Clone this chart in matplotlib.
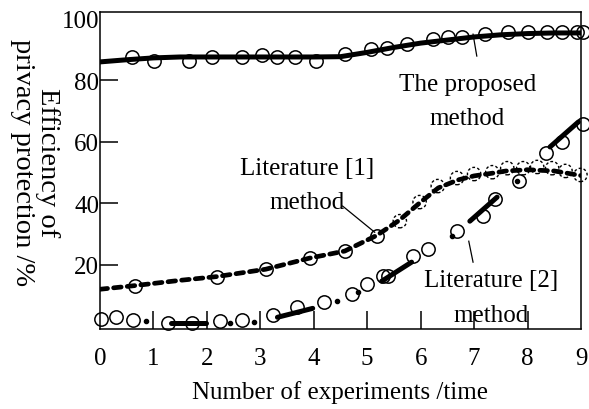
import matplotlib
matplotlib.use('Agg')
import matplotlib.pyplot as plt

plt.rcParams['font.family'] = ['Liberation Serif', 'DejaVu Serif']

# 본문 방법 (The proposed method)
prop_line_x = [0, 0.5, 1, 1.5, 2, 3, 4, 4.5, 5, 5.5, 6, 6.5, 7, 7.5, 8, 8.5, 9]
prop_line_y = [85.9, 86.6, 87.2, 87.5, 87.5, 87.5, 87.5, 87.6, 89.0, 90.6, 92.0, 93.0, 94.0, 94.7, 95.1, 95.3, 95.3]
prop_pts_x = [0.60, 1.01, 1.67, 2.10, 2.65, 3.04, 3.32, 3.64, 4.05, 4.58, 5.08, 5.37, 5.74,
              6.23, 6.51, 6.77, 7.20, 7.64, 8.01, 8.37, 8.65, 8.93, 9.04]
prop_pts_y = [87.5, 86.2, 86.2, 87.5, 87.5, 88.1, 87.5, 87.5, 86.2, 88.4, 90.1, 90.4, 91.7,
              93.3, 94.0, 94.0, 94.9, 95.6, 95.6, 95.6, 95.6, 95.6, 95.6]

# Literature [1]
lit1_line_x = [0, 0.66, 1.5, 2.18, 3.1, 3.92, 4.58, 5.18, 5.6, 6.0, 6.33, 6.7, 7.0, 7.35, 7.6, 8.0, 8.5, 9]
lit1_line_y = [12.1, 13.3, 15.0, 16.2, 18.6, 22.2, 24.5, 29.6, 34.5, 40.4, 45.0, 47.6, 48.9, 49.8, 50.5, 50.9, 50.5, 49.0]
lit1_pts_x = [0.66, 2.18, 3.10, 3.92, 4.58, 5.18]
lit1_pts_y = [13.1, 16.0, 18.6, 22.2, 24.5, 29.4]
lit1_dash_x = [5.61, 5.98, 6.32, 6.68, 7.00, 7.34, 7.62, 7.92, 8.18, 8.46, 8.71, 8.99]
lit1_dash_y = [34.2, 40.4, 45.6, 48.2, 49.5, 50.1, 51.4, 51.4, 51.8, 51.4, 50.5, 49.2]

# Literature [2]
lit2_pts_x = [0.02, 0.30, 0.62, 1.28, 1.73, 2.25, 2.66, 3.23, 3.68, 4.20, 4.71, 4.99, 5.29,
              5.38, 5.85, 6.13, 6.68, 7.17, 7.39, 7.84, 8.35, 8.65, 9.04]
lit2_pts_y = [2.4, 3.0, 2.1, 1.1, 1.1, 1.8, 2.1, 3.7, 6.3, 7.9, 10.5, 13.8, 16.4,
              16.4, 22.8, 25.1, 30.9, 35.8, 41.4, 47.2, 56.3, 59.9, 65.7]
lit2_dot_x = [0.86, 2.44, 2.89, 4.43, 4.82, 6.59, 7.80]
lit2_dot_y = [1.8, 1.1, 1.4, 8.3, 11.1, 29.3, 47.2]
lit2_seg_x = [[1.33, 1.99], [3.32, 3.98], [5.27, 5.83], [6.92, 7.43], [8.42, 8.95]]
lit2_seg_y = [[1.1, 1.1], [3.0, 5.9], [14.7, 20.9], [34.2, 42.0], [58.3, 66.4]]

xticks = [0, 1, 2, 3, 4, 5, 6, 7, 8, 9]
yticks = [20, 40, 60, 80, 100]

fig = plt.figure(figsize=(5.89, 4.10), dpi=100)
ax = fig.add_axes([100 / 589, 80 / 410, 481 / 589, 317 / 410])

ms = 9.6
circ = dict(marker='o', ms=ms, mfc='none', mec='k', mew=1.1, ls='none', clip_on=False, zorder=4)

# proposed
ax.plot(prop_line_x, prop_line_y, color='k', lw=3.6, solid_capstyle='round', zorder=3)
ax.plot(prop_pts_x, prop_pts_y, **circ)

# literature 1
ax.plot(lit1_line_x, lit1_line_y, color='k', lw=3.4, dashes=(1.6, 1.3),
        dash_capstyle='round', zorder=3)
ax.plot(lit1_pts_x, lit1_pts_y, **circ)
ax.scatter(lit1_dash_x, lit1_dash_y, s=ms ** 2, facecolors='none', edgecolors='k',
           linewidths=1.0, linestyles=(0, (2, 1.6)), clip_on=False, zorder=4)

# literature 2
for sx, sy in zip(lit2_seg_x, lit2_seg_y):
    ax.plot(sx, sy, color='k', lw=3.6, solid_capstyle='round', zorder=3)
ax.plot(lit2_pts_x, lit2_pts_y, **circ)
ax.plot(lit2_dot_x, lit2_dot_y, 'o', color='k', ms=3, ls='none', zorder=4)

# annotations
fs = 18
ax.text(6.87, 73.2, 'The proposed\nmethod', ha='center', va='center', fontsize=fs, linespacing=1.75)
ax.plot([6.98, 7.05], [94.9, 87.8], color='k', lw=0.9)
ax.text(3.87, 45.8, 'Literature [1]\nmethod', ha='center', va='center', fontsize=fs, linespacing=1.7)
ax.plot([4.54, 5.14], [39.1, 30.6], color='k', lw=0.9)
ax.text(7.32, 9.4, 'Literature [2]\nmethod', ha='center', va='center', fontsize=fs, linespacing=1.8)
ax.plot([6.90, 6.98], [27.7, 20.9], color='k', lw=0.9)

ax.set_xlim(0, 9)
ax.set_ylim(-0.8, 102.1)
ax.set_xticks(xticks)
ax.set_yticks(yticks)
ax.set_xticklabels([str(v) for v in xticks], fontsize=18)
ax.set_yticklabels([str(v) for v in yticks], fontsize=18)
ax.tick_params(axis='both', direction='in', length=13, width=1.1, color='k')
ax.tick_params(axis='x', pad=13)
ax.tick_params(axis='y', pad=0.5)
# no tick marks at the ends
for t in ax.xaxis.get_major_ticks():
    if t.get_loc() in (0, 9):
        t.tick1line.set_visible(False)
for t in ax.yaxis.get_major_ticks():
    if t.get_loc() == 100:
        t.tick1line.set_visible(False)
for s in ax.spines.values():
    s.set_linewidth(1.1)

ax.set_xlabel('Number of experiments /time', fontsize=18, labelpad=8)
fig.text(35 / 589, 1 - 163 / 410, 'Efficiency of\nprivacy protection /%', rotation=-90,
         ha='center', va='center', multialignment='center', fontsize=20.5, linespacing=0.95)

fig.savefig('out.png', dpi=100)
